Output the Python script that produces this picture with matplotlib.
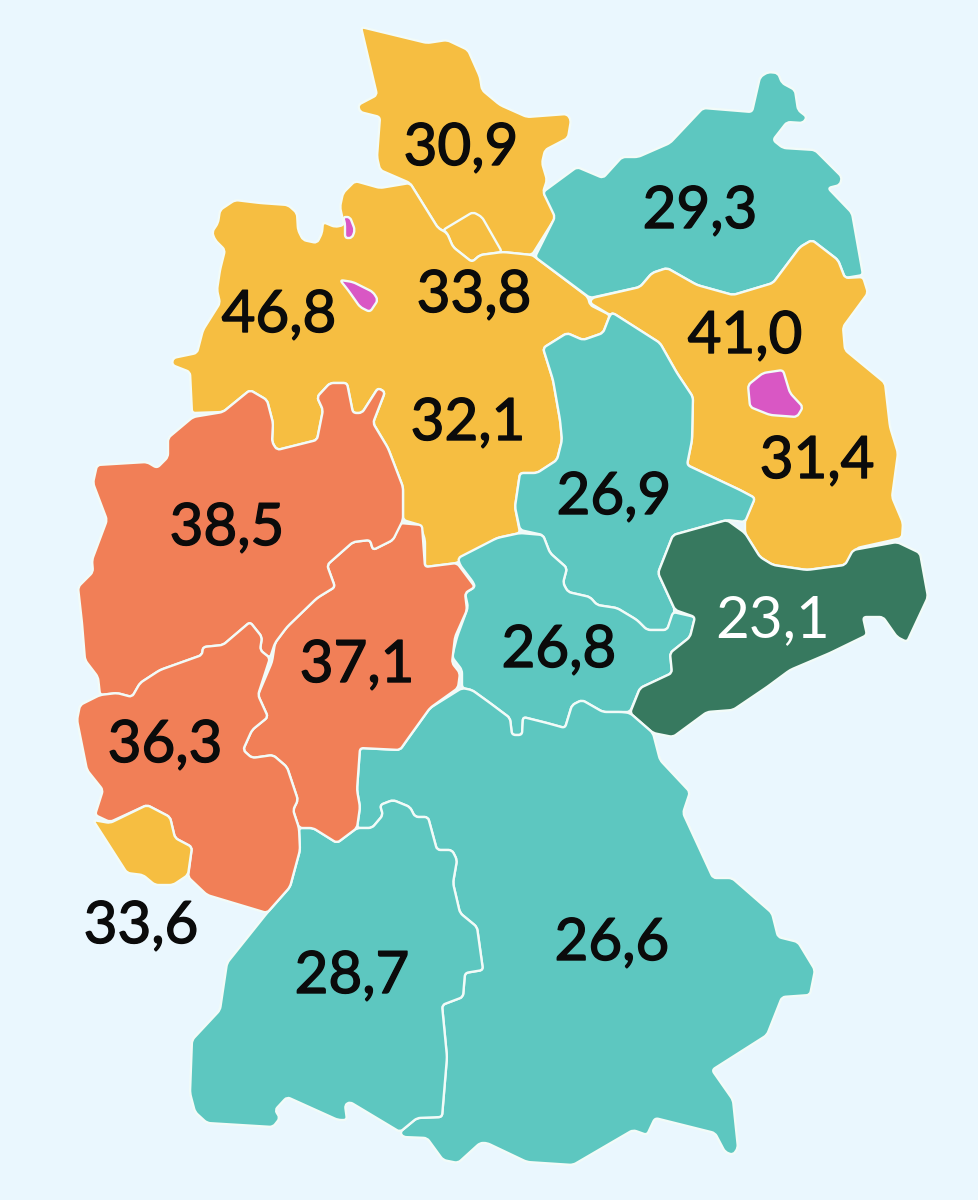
import math
import matplotlib
matplotlib.use("Agg")
import matplotlib.pyplot as plt
from matplotlib.patches import PathPatch
from matplotlib.path import Path
from matplotlib import patheffects

plt.rcParams['font.family'] = ['Lato', 'DejaVu Sans']

BG = '#EAF7FE'
TEAL = '#5DC7C0'
ORANGE = '#F17F57'
YELLOW = '#F6BE41'
GREEN = '#37795F'
MAGENTA = '#D957C4'
EDGE = '#F2FBF8'

# Region outlines
schleswig_holstein = [(361,27),(427,43),(447,40),(468,50),(480,77),(482,90),(500,105),(527,117),(567,114),(571,120),(568,138),(545,150),(542,163),(547,180),(543,192),(557,215),(532,255),(503,252),(480,255),(472,262),(453,247),(447,233),(438,228),(410,183),(380,170),(377,157),(380,117),(360,112),(358,105),(377,95)]
hamburg = [(443,230),(473,212),(482,217),(502,252),(480,255),(472,262),(453,247),(447,233)]
lower_saxony = [(410,183),(380,188),(355,181),(343,193),(340,207),(344,225),(335,227),(323,222),(322,233),(317,243),(303,240),(298,230),(297,213),(288,205),(260,203),(235,200),(220,210),(218,223),(212,232),(215,240),(225,250),(220,270),(217,290),(220,303),(203,330),(197,353),(173,358),(172,365),(190,372),(192,413),(223,412),(250,390),(267,400),(273,423),(272,442),(277,450),(317,440),(323,410),(317,397),(330,383),(347,383),(353,413),(362,413),(378,388),(385,392),(373,423),(388,448),(403,487),(403,520),(420,525),(425,540),(425,567),(457,563),(497,538),(520,533),(515,507),(520,473),(537,473),(557,460),(562,440),(560,420),(553,380),(543,348),(567,333),(583,340),(603,333),(610,315),(590,305),(588,297),(535,257),(532,255),(503,252),(480,255),(472,262),(453,247),(447,233),(438,228)]
bremerhaven = [(343,217),(350,217),(355,230),(352,238),(345,238),(345,223)]
bremen = [(340,280),(353,282),(373,292),(378,300),(370,312),(360,307),(348,290)]
mecklenburg = [(543,192),(577,167),(603,178),(622,157),(638,157),(670,143),(703,108),(752,112),(760,77),(768,72),(778,73),(782,83),(795,90),(798,110),(807,117),(803,123),(787,122),(773,140),(783,148),(815,150),(842,177),(840,185),(828,188),(852,213),(863,275),(845,278),(838,260),(812,240),(800,247),(773,283),(733,295),(697,285),(667,268),(652,273),(640,287),(590,298),(535,257),(555,217)]
brandenburg = [(590,303),(592,298),(640,287),(652,273),(667,268),(697,285),(733,295),(773,283),(800,247),(812,240),(838,260),(845,278),(863,277),(868,293),(843,327),(845,350),(885,383),(890,427),(898,453),(892,497),(903,523),(902,538),(857,548),(845,565),(807,570),(773,565),(760,557),(745,533),(745,520),(755,498),(740,490),(687,465),(692,440),(693,397),(677,373),(660,343),(613,313),(610,315)]
berlin = [(748,385),(763,373),(783,370),(790,393),(803,407),(797,417),(770,415),(750,407)]
saxony_anhalt = [(610,315),(613,313),(660,343),(677,373),(693,397),(692,440),(687,465),(740,490),(755,498),(745,522),(727,520),(673,535),(658,573),(675,610),(667,630),(647,630),(637,620),(617,608),(597,605),(590,597),(568,592),(563,583),(567,568),(550,553),(543,535),(520,530),(515,507),(520,473),(537,473),(557,460),(562,440),(560,420),(553,380),(543,348),(567,333),(583,340),(603,333)]
thuringia = [(458,558),(497,538),(520,533),(543,535),(550,553),(567,568),(563,583),(568,592),(590,597),(597,605),(617,608),(637,620),(647,630),(667,630),(673,612),(695,617),(690,637),(670,653),(672,673),(640,688),(630,712),(622,712),(603,712),(582,700),(572,705),(565,728),(547,723),(523,717),(522,735),(512,735),(510,718),(490,703),(472,690),(462,688),(462,670),(452,657),(457,637),(468,607),(465,593),(475,587),(473,582),(460,565)]
saxony = [(673,535),(727,520),(745,533),(760,557),(773,565),(807,570),(845,565),(853,550),(897,542),(920,553),(928,597),(907,642),(897,637),(883,617),(863,617),(867,635),(830,653),(790,670),(767,687),(733,710),(707,712),(673,737),(653,733),(630,713),(640,688),(672,673),(670,653),(690,637),(695,617),(675,610),(658,573)]
bavaria = [(472,690),(462,688),(430,708),(407,740),(400,750),(360,748),(357,790),(360,807),(357,828),(372,828),(383,815),(380,805),(393,800),(410,807),(415,817),(428,817),(437,850),(452,850),(457,860),(453,883),(460,913),(477,927),(483,970),(465,973),(463,997),(442,1005),(447,1057),(442,1117),(417,1118),(400,1132),(403,1137),(427,1138),(443,1160),(458,1163),(480,1143),(487,1143),(527,1162),(573,1165),(633,1130),(647,1135),(655,1118),(715,1133),(725,1152),(733,1155),(738,1148),(733,1100),(712,1070),(767,1035),(782,997),(810,995),(815,970),(798,942),(778,937),(772,913),(732,878),(713,878),(683,813),(690,792),(660,760),(653,733),(630,713),(622,712),(603,712),(582,700),(572,705),(565,728),(547,723),(523,717),(522,735),(512,735),(510,718),(490,703)]
baden_wuerttemberg = [(299,828),(313,828),(337,843),(357,828),(372,828),(383,815),(380,805),(393,800),(410,807),(415,817),(428,817),(437,850),(452,850),(457,860),(453,883),(460,913),(477,927),(483,970),(465,973),(463,997),(442,1005),(447,1057),(442,1117),(417,1118),(400,1132),(350,1102),(345,1105),(347,1120),(338,1120),(287,1097),(275,1110),(280,1118),(273,1127),(207,1123),(195,1112),(190,1093),(192,1040),(220,1010),(227,963),(267,913),(290,887),(300,850)]
hesse = [(400,523),(422,525),(425,567),(457,563),(475,587),(465,593),(467,610),(455,637),(452,663),(460,673),(458,688),(430,708),(407,740),(400,750),(360,748),(357,790),(360,807),(357,828),(337,843),(313,828),(299,828),(293,810),(298,800),(287,767),(273,755),(252,758),(243,750),(252,730),(268,717),(258,695),(272,662),(275,643),(287,627),(317,598),(335,587),(327,565),(353,542),(370,540),(373,550),(393,540)]
north_rhine_westphalia = [(193,417),(223,412),(250,390),(267,400),(273,423),(272,442),(277,450),(317,440),(323,410),(317,397),(330,383),(347,383),(353,413),(362,413),(378,388),(385,392),(373,423),(388,448),(403,487),(403,520),(393,540),(373,550),(370,540),(353,542),(327,565),(335,587),(317,598),(287,627),(275,643),(270,658),(260,650),(262,637),(250,622),(223,645),(203,647),(202,655),(160,670),(140,683),(132,697),(117,693),(100,695),(98,677),(85,660),(82,623),(78,587),(93,572),(92,560),(107,520),(93,483),(97,465),(147,462),(157,468),(168,457),(168,438)]
rhineland_palatinate = [(80,705),(100,695),(117,693),(132,697),(140,683),(160,670),(202,655),(203,647),(223,645),(250,622),(262,637),(260,650),(270,658),(258,695),(268,717),(252,730),(243,750),(252,758),(273,755),(287,767),(298,800),(293,810),(299,828),(300,850),(290,887),(267,913),(207,895),(188,877),(192,847),(175,838),(170,817),(147,805),(110,822),(95,815),(103,790),(87,770),(77,720)]
saarland = [(93,820),(110,823),(147,805),(170,817),(175,838),(192,847),(188,875),(173,885),(155,885),(143,875),(127,873)]

outlines = [schleswig_holstein, hamburg, lower_saxony, bremerhaven, bremen, mecklenburg,
            brandenburg, berlin, saxony_anhalt, thuringia, saxony, bavaria,
            baden_wuerttemberg, hesse, north_rhine_westphalia, rhineland_palatinate, saarland]
fills = [YELLOW, YELLOW, YELLOW, MAGENTA, MAGENTA, TEAL,
         YELLOW, MAGENTA, TEAL, TEAL, GREEN, TEAL,
         TEAL, ORANGE, ORANGE, ORANGE, YELLOW]

values = [30.9, 29.3, 46.8, 33.8, 41.0, 32.1, 31.4, 26.9, 38.5, 23.1, 26.8, 37.1, 36.3, 33.6, 26.6, 28.7]
label_x = [461, 700, 279, 474, 745, 468, 817, 614, 227, 773, 559, 357, 165, 141, 612, 352]
label_y = [165, 228, 332, 312, 353, 440, 478, 514, 545, 637, 667, 682, 762, 943, 960, 993]
label_colors = ['#0B0B0B'] * 9 + ['#FFFFFF'] + ['#0B0B0B'] * 6

CORNER = 3.5  # corner softening radius in pixels


def rounded_path(pts):
    """Closed outline with slightly softened corners."""
    n = len(pts)
    verts, codes = [], []
    for i in range(n):
        p, b, q = pts[i - 1], pts[i], pts[(i + 1) % n]
        lp, lq = math.dist(p, b), math.dist(b, q)
        rp, rq = min(CORNER, lp * 0.4), min(CORNER, lq * 0.4)
        d1 = (b[0] + (p[0] - b[0]) * rp / lp, b[1] + (p[1] - b[1]) * rp / lp)
        d2 = (b[0] + (q[0] - b[0]) * rq / lq, b[1] + (q[1] - b[1]) * rq / lq)
        verts += [d1, b, d2]
        codes += [Path.MOVETO if i == 0 else Path.LINETO, Path.CURVE3, Path.CURVE3]
    verts.append(verts[0])
    codes.append(Path.CLOSEPOLY)
    return Path(verts, codes)


fig = plt.figure(figsize=(9.79, 12), dpi=100, facecolor=BG)
ax = fig.add_axes([0, 0, 1, 1])
ax.set_xlim(0, 979)
ax.set_ylim(1200, 0)
ax.axis('off')

for outline, fill in zip(outlines, fills):
    ax.add_patch(PathPatch(rounded_path(outline), facecolor=fill, edgecolor=EDGE,
                           linewidth=1.7, joinstyle='round'))

for v, x, y, c in zip(values, label_x, label_y, label_colors):
    t = ax.text(x, y, f'{v:.1f}'.replace('.', ','), ha='center', va='baseline',
                fontsize=42, color=c, fontweight='regular')
    if c != '#FFFFFF':
        t.set_path_effects([patheffects.withStroke(linewidth=1.0, foreground=c)])

fig.savefig('out.png', dpi=100, facecolor=BG)
